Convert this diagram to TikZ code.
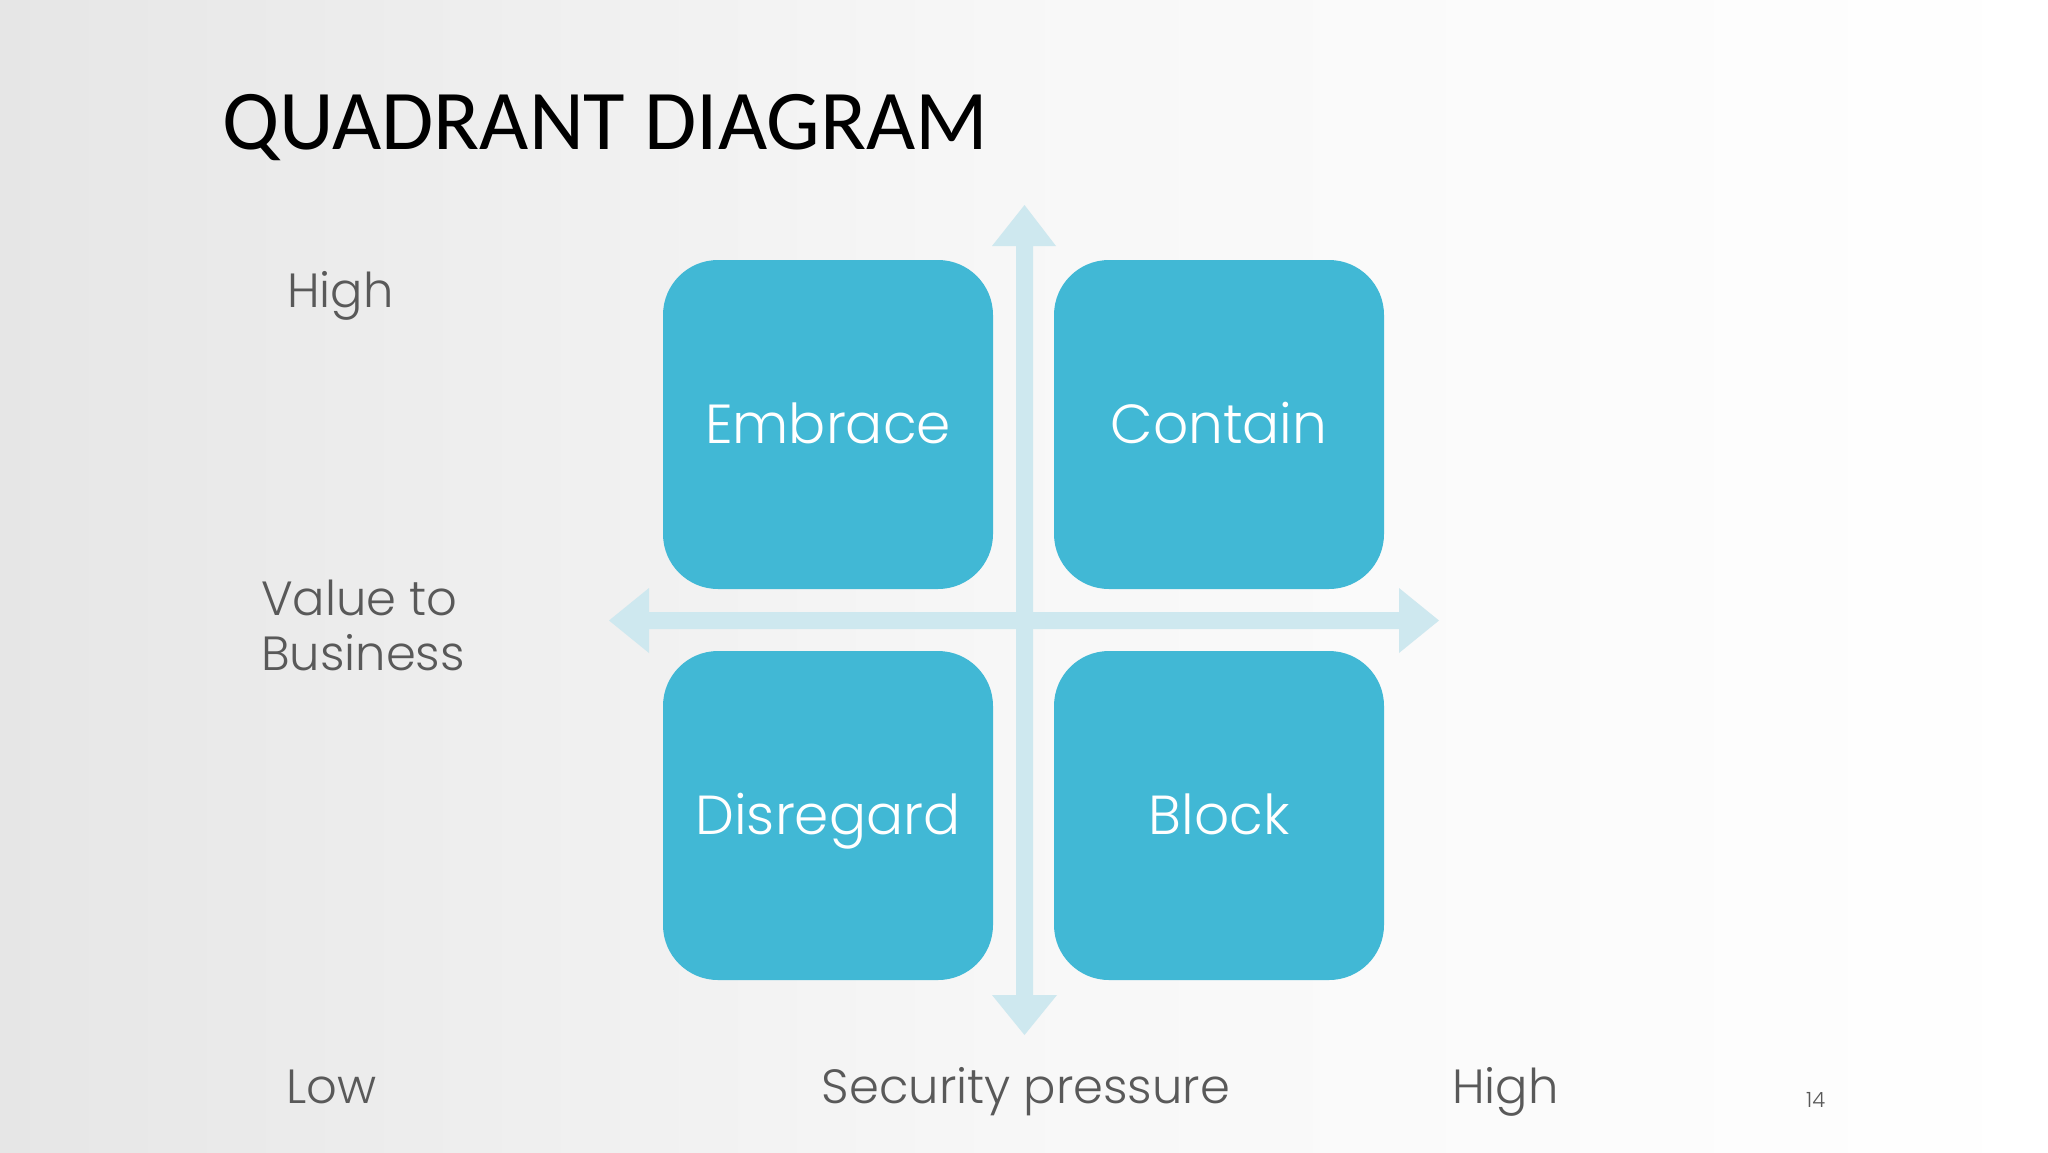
\documentclass[tikz,border=0pt]{standalone}
\usepackage{fontspec}
\IfFontExistsTF{Poppins Light}{\setmainfont{Poppins Light}}{\setmainfont{Poppins}}
\newfontfamily\titlefont{Carlito}
\definecolor{boxblue}{HTML}{41B8D5}
\definecolor{arrowblue}{HTML}{CEE8EF}
\definecolor{labelgray}{HTML}{595959}
\definecolor{bgleft}{HTML}{E6E6E6}
\begin{document}
\begin{tikzpicture}[x=1pt,y=-1pt,
  quad/.style={fill=boxblue, draw=none, rounded corners=55pt, minimum width=330pt, minimum height=329pt, inner sep=0pt, text=white, text height=38.5pt, text depth=0pt, font=\fontsize{55}{55}\selectfont},
  axislabel/.style={anchor=base west, inner sep=0pt, text=labelgray, font=\fontsize{48}{55}\selectfont},
  axisfill/.style={fill=arrowblue, draw=none}]
\useasboundingbox (0,0) rectangle (2048,1152);
\shade[left color=bgleft, right color=white, middle color=white!97!black] (0,0) rectangle (2048,1152);
% title
\node[anchor=base west, inner sep=0pt, font=\titlefont\fontsize{85}{85}\selectfont] (title) at (222,149) {QUADRANT DIAGRAM};
% axes
\coordinate (vtop) at (1024.5,205);
\coordinate (vbot) at (1024.5,1035);
\coordinate (hleft) at (609,620.5);
\coordinate (hright) at (1439,620.5);
\fill[axisfill] (vtop) -- (1056,246) -- (1033,246) -- (1033,995) -- (1057,995) -- (vbot) -- (992,995) -- (1016,995) -- (1016,246) -- (992,246) -- cycle;
\fill[axisfill] (hleft) -- (649,588) -- (649,612) -- (1399,612) -- (1399,588) -- (hright) -- (1399,653) -- (1399,629) -- (649,629) -- (649,653) -- cycle;
% quadrants
\node[quad] (embrace) at (828,424.5) {Embrace};
\node[quad] (contain) at (1219,424.5) {Contain};
\node[quad] (disregard) at (828,815.5) {Disregard};
\node[quad] (block) at (1219,815.5) {Block};
% labels
\node[axislabel] (yhigh) at (287,307) {High};
\node[axislabel, align=left] (yvalue) at (261,615) {Value to};
\node[axislabel] (ybusiness) at (261,670) {Business};
\node[axislabel] (xlow) at (286,1103) {Low};
\node[anchor=base, inner sep=0pt, text=labelgray, font=\fontsize{48}{55}\selectfont] (xlabel) at (1026,1103) {Security pressure};
\node[axislabel] (xhigh) at (1452,1103) {High};
\node[anchor=base west, inner sep=0pt, text=labelgray, font=\fontsize{21}{21}\selectfont] (pagenum) at (1806,1107) {14};
\end{tikzpicture}
\end{document}
